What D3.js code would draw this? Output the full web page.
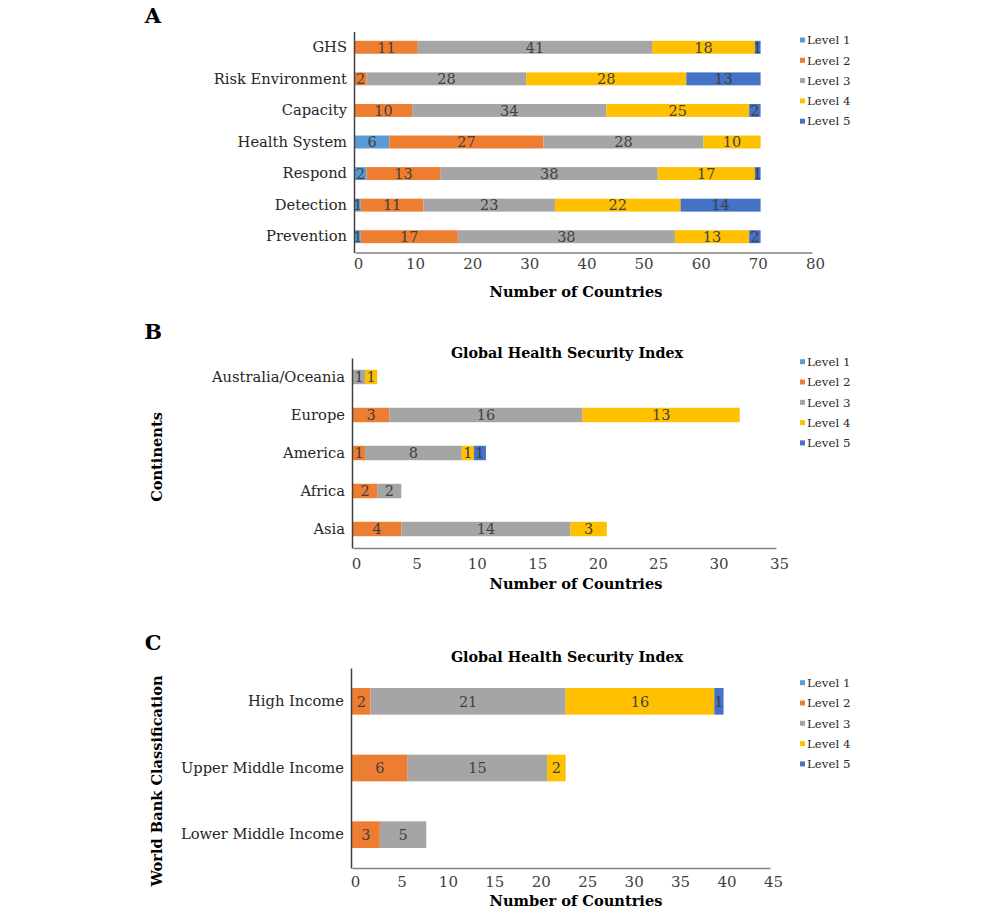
<!DOCTYPE html>
<html>
<head>
<meta charset="utf-8">
<script src="https://cdn.jsdelivr.net/npm/d3@7"></script>
<style>
  body { margin: 0; background: #fff; }
  text { font-family: "DejaVu Serif", serif; }
</style>
</head>
<body>
<div id="chart"></div>
<script>
// Data
var levels = ["Level 1", "Level 2", "Level 3", "Level 4", "Level 5"];
var levelColors = ["#5B9BD5", "#ED7D31", "#A5A5A5", "#FFC000", "#4472C4"];

// Panel A: GHS dimensions
var dimensionCats = ["GHS", "Risk Environment", "Capacity", "Health System", "Respond", "Detection", "Prevention"];
var dimensionValues = [
  [0, 11, 41, 18, 1],
  [0, 2, 28, 28, 13],
  [0, 10, 34, 25, 2],
  [6, 27, 28, 10, 0],
  [2, 13, 38, 17, 1],
  [1, 11, 23, 22, 14],
  [1, 17, 38, 13, 2]
];
var dimensionTicks = [0, 10, 20, 30, 40, 50, 60, 70, 80];

// Panel B: continents
var continentCats = ["Australia/Oceania", "Europe", "America", "Africa", "Asia"];
var continentValues = [
  [0, 0, 1, 1, 0],
  [0, 3, 16, 13, 0],
  [0, 1, 8, 1, 1],
  [0, 2, 2, 0, 0],
  [0, 4, 14, 3, 0]
];
var continentTicks = [0, 5, 10, 15, 20, 25, 30, 35];

// Panel C: world bank income groups
var incomeCats = ["High Income", "Upper Middle Income", "Lower Middle Income"];
var incomeValues = [
  [0, 2, 21, 16, 1],
  [0, 6, 15, 2, 0],
  [0, 3, 5, 0, 0]
];
var incomeTicks = [0, 5, 10, 15, 20, 25, 30, 35, 40, 45];

var svg = d3.select("#chart").append("svg")
  .attr("width", 1000)
  .attr("height", 915);

var drawPanel = function(opt) {
  var g = svg.append("g");
  var ticks = opt.ticks;

  var xScale = d3.scaleLinear()
    .domain([0, ticks[ticks.length - 1]])
    .range([opt.left, opt.right]);

  var yScale = d3.scaleBand()
    .domain(opt.cats)
    .range([opt.top, opt.bottom])
    .paddingInner(opt.pad)
    .paddingOuter(opt.pad / 2);

  // stacked segments
  opt.cats.forEach(function(cat, i) {
    var vals = opt.values[i];
    var acc = 0;
    vals.forEach(function(v, j) {
      if (v > 0) {
        g.append("rect")
          .attr("x", xScale(acc))
          .attr("y", yScale(cat))
          .attr("width", xScale(acc + v) - xScale(acc))
          .attr("height", yScale.bandwidth())
          .attr("fill", levelColors[j]);
        g.append("text")
          .attr("x", xScale(acc + v / 2))
          .attr("y", yScale(cat) + yScale.bandwidth() / 2)
          .attr("dy", "0.36em")
          .attr("text-anchor", "middle")
          .attr("font-size", "14.5px")
          .attr("fill", "#404040")
          .text(v);
      }
      acc += v;
    });
  });

  // x axis
  var xAxis = g.append("g")
    .attr("transform", "translate(0," + opt.bottom + ")")
    .call(d3.axisBottom(xScale).tickValues(ticks).tickSize(0).tickPadding(opt.tickPad));
  xAxis.select(".domain").attr("stroke", "#7f7f7f").attr("stroke-width", 1.5);
  xAxis.selectAll("text")
    .attr("dx", 3)
    .style("font-family", "DejaVu Serif")
    .style("font-size", "15px")
    .attr("fill", "#404040");

  // y axis
  var yAxis = g.append("g")
    .attr("transform", "translate(" + (opt.left - 1) + ",0)")
    .call(d3.axisLeft(yScale).tickSize(0).tickPadding(7));
  yAxis.select(".domain").attr("stroke", "#404040").attr("stroke-width", 1.5);
  yAxis.selectAll("text")
    .style("font-family", "DejaVu Serif")
    .style("font-size", "14.7px")
    .attr("fill", "#262626");

  // x axis title
  g.append("text")
    .attr("x", 576)
    .attr("y", opt.xTitleY)
    .attr("text-anchor", "middle")
    .attr("font-size", "14.6px")
    .attr("font-weight", "bold")
    .text("Number of Countries");

  if (opt.title) {
    g.append("text")
      .attr("x", 567)
      .attr("y", opt.titleY)
      .attr("text-anchor", "middle")
      .attr("font-size", "14.3px")
      .attr("font-weight", "bold")
      .text(opt.title);
  }

  if (opt.yTitle) {
    g.append("text")
      .attr("transform", "translate(162," + opt.yTitleY + ") rotate(-90)")
      .attr("text-anchor", "middle")
      .attr("font-size", "14.6px")
      .attr("font-weight", "bold")
      .text(opt.yTitle);
  }

  // panel letter
  g.append("text")
    .attr("x", 153)
    .attr("y", opt.letterY)
    .attr("text-anchor", "middle")
    .attr("font-size", "21px")
    .attr("font-weight", "bold")
    .text(opt.letter);

  // legend
  var legend = g.selectAll(".legend")
    .data(levels)
    .enter().append("g")
    .attr("transform", function(d, i) { return "translate(800," + (opt.legendY + i * 20.3) + ")"; });
  legend.append("rect")
    .attr("x", 0).attr("y", -2.5)
    .attr("width", 5).attr("height", 5)
    .attr("fill", function(d, i) { return levelColors[i]; });
  legend.append("text")
    .attr("x", 7)
    .attr("dy", "0.36em")
    .attr("font-size", "11.8px")
    .attr("fill", "#262626")
    .text(function(d) { return d; });
};

drawPanel({
  letter: "A", letterY: 23,
  cats: dimensionCats, values: dimensionValues, ticks: dimensionTicks,
  left: 355, right: 812, top: 31.5, bottom: 252.5, pad: 0.59,
  tickPad: 6, xTitleY: 297, legendY: 40
});

drawPanel({
  letter: "B", letterY: 339,
  cats: continentCats, values: continentValues, ticks: continentTicks,
  left: 353, right: 776, top: 358, bottom: 548, pad: 0.62,
  tickPad: 10, xTitleY: 589, legendY: 361.7,
  title: "Global Health Security Index", titleY: 358,
  yTitle: "Continents", yTitleY: 457
});

drawPanel({
  letter: "C", letterY: 650,
  cats: incomeCats, values: incomeValues, ticks: incomeTicks,
  left: 352, right: 770, top: 668, bottom: 868, pad: 0.6,
  tickPad: 8.5, xTitleY: 906, legendY: 682.7,
  title: "Global Health Security Index", titleY: 662,
  yTitle: "World Bank Classification", yTitleY: 781
});
</script>
</body>
</html>
